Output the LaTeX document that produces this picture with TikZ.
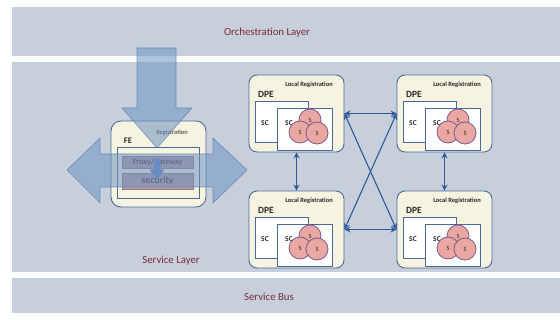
\documentclass[tikz,border=0pt]{standalone}
\usepackage{fontspec}
\setmainfont{Carlito}
\usetikzlibrary{arrows.meta}
\definecolor{band}{HTML}{C7CFDB}
\definecolor{labred}{HTML}{7A2E38}
\definecolor{cream}{HTML}{F6F3E0}
\definecolor{boxline}{HTML}{4A6A98}
\definecolor{bigarrow}{HTML}{6F93C2}
\definecolor{bigarrowline}{HTML}{5A80B4}
\definecolor{conn}{HTML}{2F5A9A}
\definecolor{mauve}{HTML}{B89AA4}
\definecolor{sfill}{HTML}{EBA8A2}
\definecolor{sline}{HTML}{7A5A8E}
\definecolor{txt}{HTML}{2A2A2A}
\tikzset{
  bandbox/.style={fill=band,draw=none},
  layerlabel/.style={text=labred,font=\fontsize{10.8}{12}\selectfont},
  dpebox/.style={draw=boxline,fill=cream,line width=0.9pt,rounded corners=8pt,minimum width=95pt,minimum height=77pt,inner sep=0pt},
  scbox/.style={draw=boxline,fill=white,line width=0.8pt,inner sep=0pt},
  scirc/.style={circle,draw=sline,fill=sfill,line width=0.8pt,minimum size=22pt,inner sep=0pt,text=txt,font=\fontsize{6.5}{7}\selectfont},
  sclabel/.style={text=txt,font=\bfseries\fontsize{7.5}{8}\selectfont},
  regl/.style={text=txt,font=\bfseries\fontsize{6.5}{7}\selectfont},
  biga/.style={fill=bigarrow,fill opacity=0.55,draw=bigarrowline,draw opacity=0.8,line width=0.6pt},
  dconn/.style={draw=conn,line width=1.1pt,{Stealth[length=6pt,width=6pt]}-{Stealth[length=6pt,width=6pt]}},
}
\begin{document}
\begin{tikzpicture}[x=1pt,y=-1pt]
\useasboundingbox (0,0) rectangle (560,320);
\fill[white] (0,0) rectangle (560,320);
% bands
\path[bandbox] (12,7) rectangle (560,56);
\path[bandbox] (12,62) rectangle (560,272);
\path[bandbox] (12,278) rectangle (560,313);
\node[layerlabel] (orch) at (267,33) {Orchestration Layer};
\node[layerlabel] (svcl) at (171,261) {Service Layer};
\node[layerlabel] (bus) at (269,297) {Service Bus};
% FE
\node[draw=boxline,fill=cream,line width=0.9pt,rounded corners=10pt,minimum width=95pt,minimum height=86pt,inner sep=0pt] (fe) at (158.5,164) {};
\node[text=txt,font=\fontsize{6.5}{7}\selectfont] (fereg) at (172,133) {Registration};
\node[sclabel,font=\bfseries\fontsize{8.5}{9}\selectfont] (felab) at (128,141) {FE};
\node[draw=boxline,line width=0.9pt,minimum width=82pt,minimum height=51pt,inner sep=0pt] (feinner) at (158,172.5) {};
\node[fill=mauve,draw=mauve!80!black,line width=0.4pt,minimum width=71pt,minimum height=12pt,inner sep=0pt,text=txt,font=\fontsize{8}{8}\selectfont] (proxy) at (157.5,162) {Proxy/Gateway};
\node[fill=mauve,draw=mauve!80!black,line width=0.4pt,minimum width=71pt,minimum height=16pt,inner sep=0pt,text=txt,font=\fontsize{10}{10}\selectfont] (sec) at (157.5,181) {security};
\draw[fill=bigarrow!90!blue,draw=bigarrowline,line width=0.5pt] (154,159) -- (160,159) -- (160,170) -- (164,170) -- (157,179) -- (150,170) -- (154,170) -- cycle;
% big arrows
\path[biga] (137,48) -- (176,48) -- (176,108) -- (192,108) -- (157,148) -- (122,108) -- (137,108) -- cycle;
\path[biga] (67,170) -- (100,138) -- (100,154) -- (213,154) -- (213,138) -- (247,170) -- (213,203) -- (213,187) -- (100,187) -- (100,203) -- cycle;
% DPE boxes
\foreach \n/\X/\Y in {tl/249/75, tr/397/75, bl/249/191, br/397/191}{
  \node[dpebox] (\n) at (\X+47.5,\Y+38.5) {};
  \node[regl] (\n-reg) at (\X+60,\Y+10) {Local Registration};
  \node[sclabel,font=\bfseries\fontsize{9.5}{10}\selectfont] (\n-dpe) at (\X+17,\Y+19) {DPE};
  \node[scbox,minimum width=53pt,minimum height=41pt] (\n-sc1) at (\X+32.5,\Y+46.5) {};
  \node[sclabel] (\n-sc1l) at (\X+16,\Y+48) {SC};
  \node[scbox,minimum width=55pt,minimum height=42pt] (\n-sc2) at (\X+55.5,\Y+54) {};
  \node[sclabel] (\n-sc2l) at (\X+40,\Y+48) {SC};
  \node[scirc] (\n-s1) at (\X+61,\Y+45) {S};
  \node[scirc] (\n-s2) at (\X+51,\Y+57) {S};
  \node[scirc] (\n-s3) at (\X+68,\Y+58) {S};
}
% connectors
\draw[dconn] (tl.south) -- (bl.north);
\draw[dconn] (tr.south) -- (br.north);
\draw[dconn] (tl.east) -- (tr.west);
\draw[dconn] (bl.east) -- (br.west);
\draw[dconn] (tl.east) -- (br.west);
\draw[dconn] (bl.east) -- (tr.west);
\end{tikzpicture}
\end{document}
